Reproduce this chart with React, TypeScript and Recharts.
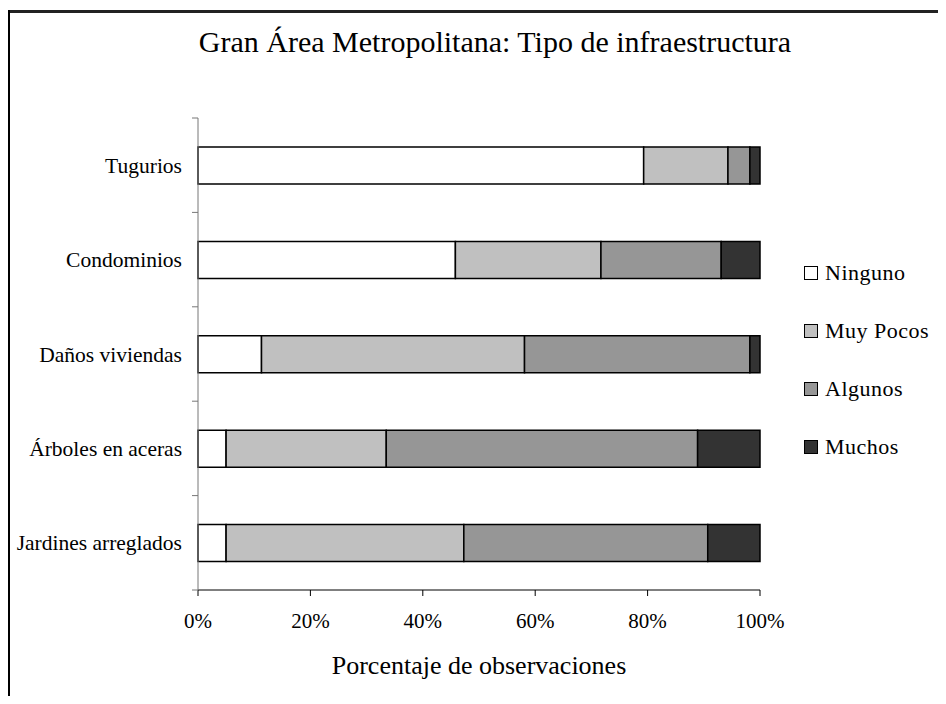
import React from 'react';
import { BarChart, Bar, XAxis, YAxis } from 'recharts';

const categories = ['Tugurios', 'Condominios', 'Daños viviendas', 'Árboles en aceras', 'Jardines arreglados'];
const ninguno = [79.3, 45.8, 11.3, 5.0, 5.0];
const muyPocos = [15.0, 25.9, 46.8, 28.5, 42.3];
const algunos = [3.9, 21.4, 40.1, 55.4, 43.4];
const muchos = [1.8, 6.9, 1.8, 11.1, 9.3];
const xTicks = [0, 0.2, 0.4, 0.6, 0.8, 1];

const SERIES = [
  { key: 'ninguno', name: 'Ninguno', fill: '#ffffff' },
  { key: 'muyPocos', name: 'Muy Pocos', fill: '#c0c0c0' },
  { key: 'algunos', name: 'Algunos', fill: '#969696' },
  { key: 'muchos', name: 'Muchos', fill: '#333333' },
];

const data = categories.map((name, i) => ({
  name,
  ninguno: ninguno[i],
  muyPocos: muyPocos[i],
  algunos: algunos[i],
  muchos: muchos[i],
}));

const FONT = '"Liberation Serif", "Times New Roman", serif';
const PLOT_H = 472;
const BAND = PLOT_H / categories.length;

const CategoryTick = ({ x, y, payload, index }: any) => {
  const axisX = x + 16;
  return (
    <g>
      <line x1={axisX - 6} x2={axisX} y1={y - BAND / 2} y2={y - BAND / 2} stroke="#777" />
      {index === categories.length - 1 && (
        <line x1={axisX - 6} x2={axisX} y1={y + BAND / 2} y2={y + BAND / 2} stroke="#777" />
      )}
      <text x={x} y={y} dy="0.35em" textAnchor="end" fontSize={21.5} fontFamily={FONT} fill="#000">
        {payload.value}
      </text>
    </g>
  );
};

// legend drawn beside the chart so it doesn't eat into the plot area
const LegendBox = () => (
  <div style={{ fontFamily: FONT, fontSize: 22 }}>
    {SERIES.map((s) => (
      <div key={s.key} style={{ height: 58, display: 'flex', alignItems: 'center' }}>
        <span
          style={{
            display: 'inline-block',
            width: 12,
            height: 12,
            background: s.fill,
            border: '1.5px solid #000',
            marginRight: 7,
          }}
        />
        <span style={{ letterSpacing: 0.5 }}>{s.name}</span>
      </div>
    ))}
  </div>
);

export default function App() {
  return (
    <div style={{ position: 'relative', width: 930, height: 688, overflow: 'hidden' }}>
      <div style={{ position: 'absolute', left: 0, top: 2, width: 930, height: 3, background: '#222' }} />
      <div style={{ position: 'absolute', left: 0, top: 2, width: 2, height: 686, background: '#000' }} />
      <div
        style={{
          position: 'absolute',
          left: 0,
          width: 974,
          top: 17,
          textAlign: 'center',
          fontFamily: FONT,
          fontSize: 30,
        }}
      >
        Gran Área Metropolitana: Tipo de infraestructura
      </div>
      <div
        style={{
          position: 'absolute',
          left: 190,
          width: 562,
          top: 643,
          textAlign: 'center',
          fontFamily: FONT,
          fontSize: 26,
        }}
      >
        Porcentaje de observaciones
      </div>
      <div style={{ position: 'absolute', left: 0, top: 0 }}>
        <BarChart
          width={930}
          height={688}
          data={data}
          layout="vertical"
          stackOffset="expand"
          barSize={37}
          margin={{ top: 110, right: 178, bottom: 76, left: 0 }}
        >
          <XAxis
            type="number"
            domain={[0, 1]}
            ticks={xTicks}
            tickFormatter={(v: number) => `${Math.round(v * 100)}%`}
            height={30}
            tickSize={6}
            tickMargin={17}
            stroke="#000"
            tick={{ fill: '#000', fontSize: 21, fontFamily: FONT }}
          />
          <YAxis
            type="category"
            dataKey="name"
            width={190}
            tickLine={false}
            tickSize={6}
            tickMargin={10}
            stroke="#777"
            interval={0}
            tick={<CategoryTick />}
          />
          {SERIES.map((s) => (
            <Bar
              key={s.key}
              dataKey={s.key}
              name={s.name}
              stackId="a"
              fill={s.fill}
              stroke="#000"
              strokeWidth={1.5}
              isAnimationActive={false}
            />
          ))}
        </BarChart>
      </div>
      <div style={{ position: 'absolute', left: 796, top: 236, width: 134 }}>
        <LegendBox />
      </div>
    </div>
  );
}
